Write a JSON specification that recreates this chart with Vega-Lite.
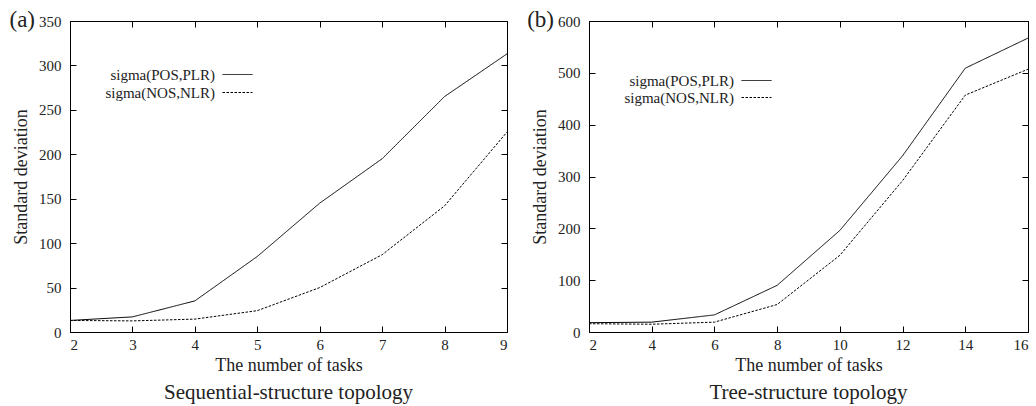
{
  "$schema": "https://vega.github.io/schema/vega-lite/v6.json",
  "background": "white",
  "padding": {"left": 8, "top": 8, "right": 2, "bottom": 2},
  "spacing": 15,
  "resolve": {"scale": {"strokeDash": "independent"}, "legend": {"strokeDash": "independent"}},
  "datasets": {
    "seq": [
      {"tasks": 2, "sd": 13, "series": "sigma(POS,PLR)"},
      {"tasks": 3, "sd": 17, "series": "sigma(POS,PLR)"},
      {"tasks": 4, "sd": 35, "series": "sigma(POS,PLR)"},
      {"tasks": 5, "sd": 85, "series": "sigma(POS,PLR)"},
      {"tasks": 6, "sd": 145, "series": "sigma(POS,PLR)"},
      {"tasks": 7, "sd": 195, "series": "sigma(POS,PLR)"},
      {"tasks": 8, "sd": 265, "series": "sigma(POS,PLR)"},
      {"tasks": 9, "sd": 313, "series": "sigma(POS,PLR)"},
      {"tasks": 2, "sd": 13, "series": "sigma(NOS,NLR)"},
      {"tasks": 3, "sd": 12.5, "series": "sigma(NOS,NLR)"},
      {"tasks": 4, "sd": 14.5, "series": "sigma(NOS,NLR)"},
      {"tasks": 5, "sd": 24, "series": "sigma(NOS,NLR)"},
      {"tasks": 6, "sd": 50, "series": "sigma(NOS,NLR)"},
      {"tasks": 7, "sd": 87, "series": "sigma(NOS,NLR)"},
      {"tasks": 8, "sd": 142, "series": "sigma(NOS,NLR)"},
      {"tasks": 9, "sd": 225, "series": "sigma(NOS,NLR)"}
    ],
    "tree": [
      {"tasks": 2, "sd": 18, "series": "sigma(POS,PLR)"},
      {"tasks": 4, "sd": 19, "series": "sigma(POS,PLR)"},
      {"tasks": 6, "sd": 33, "series": "sigma(POS,PLR)"},
      {"tasks": 8, "sd": 90, "series": "sigma(POS,PLR)"},
      {"tasks": 10, "sd": 196, "series": "sigma(POS,PLR)"},
      {"tasks": 12, "sd": 340, "series": "sigma(POS,PLR)"},
      {"tasks": 14, "sd": 509, "series": "sigma(POS,PLR)"},
      {"tasks": 16, "sd": 567, "series": "sigma(POS,PLR)"},
      {"tasks": 2, "sd": 16, "series": "sigma(NOS,NLR)"},
      {"tasks": 4, "sd": 15, "series": "sigma(NOS,NLR)"},
      {"tasks": 6, "sd": 19, "series": "sigma(NOS,NLR)"},
      {"tasks": 8, "sd": 53, "series": "sigma(NOS,NLR)"},
      {"tasks": 10, "sd": 148, "series": "sigma(NOS,NLR)"},
      {"tasks": 12, "sd": 292, "series": "sigma(NOS,NLR)"},
      {"tasks": 14, "sd": 457, "series": "sigma(NOS,NLR)"},
      {"tasks": 16, "sd": 507, "series": "sigma(NOS,NLR)"}
    ],
    "one": [{"k": 1}]
  },
  "config": {
    "font": "Liberation Serif",
    "view": {"stroke": "black", "strokeWidth": 1},
    "axis": {
      "grid": false, "domain": false, "ticks": true, "tickColor": "black", "tickSize": -6,
      "labelFont": "Liberation Serif", "labelFontSize": 15, "labelColor": "#222",
      "titleFont": "Liberation Serif", "titleFontSize": 18, "titleFontWeight": "normal", "titleColor": "#222"
    },
    "axisY": {"labelPadding": 15, "titlePadding": 8},
    "axisX": {"labelPadding": 11},
    "legend": {
      "orient": "none", "legendX": 160, "legendY": 46, "title": null, "padding": 0,
      "symbolType": "M-3,0H3", "symbolSize": 100, "symbolStrokeWidth": 1, "symbolStrokeColor": "black", "symbolFillColor": "transparent",
      "labelAlign": "right", "labelOffset": -30, "labelFont": "Liberation Serif", "labelFontSize": 15,
      "labelColor": "#222", "rowPadding": 2
    },
    "title": {"font": "Liberation Serif", "fontSize": 21, "fontWeight": "normal", "color": "#222"}
  },
  "hconcat": [
    {
      "width": 437, "height": 311,
      "title": {"text": "Sequential-structure topology", "orient": "bottom", "offset": 8},
      "layer": [
        {
          "data": {"name": "seq"},
          "mark": {"type": "line", "color": "black", "strokeWidth": 1},
          "encoding": {
            "x": {"field": "tasks", "type": "quantitative", "scale": {"domain": [2, 9], "nice": false},
                  "axis": {"orient": "bottom", "values": [2, 3, 4, 5, 6, 7, 8, 9], "title": "The number of tasks", "titlePadding": 4}},
            "y": {"field": "sd", "type": "quantitative", "scale": {"domain": [0, 350], "nice": false},
                  "axis": {"orient": "left", "values": [0, 50, 100, 150, 200, 250, 300, 350], "title": "Standard deviation"}},
            "strokeDash": {"field": "series", "type": "nominal",
                  "scale": {"domain": ["sigma(POS,PLR)", "sigma(NOS,NLR)"], "range": [[1, 0], [2.5, 1.5]]}}
          }
        },
        {
          "data": {"name": "seq"},
          "mark": {"type": "point", "opacity": 0},
          "encoding": {
            "x": {"field": "tasks", "type": "quantitative", "axis": {"orient": "top", "values": [2, 3, 4, 5, 6, 7, 8, 9], "labels": false, "title": null}},
            "y": {"field": "sd", "type": "quantitative", "axis": {"orient": "right", "values": [0, 50, 100, 150, 200, 250, 300, 350], "labels": false, "title": null}}
          }
        },
        {
          "data": {"name": "one"},
          "mark": {"type": "text", "text": "(a)", "fontSize": 23, "fontWeight": "normal", "align": "right", "baseline": "alphabetic", "dx": -35, "dy": 6, "color": "#222", "font": "Liberation Serif"},
          "encoding": {
            "x": {"datum": 2, "type": "quantitative", "axis": null},
            "y": {"datum": 350, "type": "quantitative", "axis": null}
          }
        }
      ],
      "resolve": {"axis": {"x": "independent", "y": "independent"}}
    },
    {
      "width": 439, "height": 311,
      "title": {"text": "Tree-structure topology", "orient": "bottom", "offset": 8},
      "layer": [
        {
          "data": {"name": "tree"},
          "mark": {"type": "line", "color": "black", "strokeWidth": 1},
          "encoding": {
            "x": {"field": "tasks", "type": "quantitative", "scale": {"domain": [2, 16], "nice": false},
                  "axis": {"orient": "bottom", "values": [2, 4, 6, 8, 10, 12, 14, 16], "title": "The number of tasks", "titlePadding": 4}},
            "y": {"field": "sd", "type": "quantitative", "scale": {"domain": [0, 600], "nice": false},
                  "axis": {"orient": "left", "values": [0, 100, 200, 300, 400, 500, 600], "title": "Standard deviation"}},
            "strokeDash": {"field": "series", "type": "nominal",
                  "scale": {"domain": ["sigma(POS,PLR)", "sigma(NOS,NLR)"], "range": [[1, 0], [2.5, 1.5]]},
                  "legend": {"legendX": 160, "legendY": 52, "rowPadding": 1}}
          }
        },
        {
          "data": {"name": "tree"},
          "mark": {"type": "point", "opacity": 0},
          "encoding": {
            "x": {"field": "tasks", "type": "quantitative", "axis": {"orient": "top", "values": [2, 4, 6, 8, 10, 12, 14, 16], "labels": false, "title": null}},
            "y": {"field": "sd", "type": "quantitative", "axis": {"orient": "right", "values": [0, 100, 200, 300, 400, 500, 600], "labels": false, "title": null}}
          }
        },
        {
          "data": {"name": "one"},
          "mark": {"type": "text", "text": "(b)", "fontSize": 23, "fontWeight": "normal", "align": "right", "baseline": "alphabetic", "dx": -35, "dy": 6, "color": "#222", "font": "Liberation Serif"},
          "encoding": {
            "x": {"datum": 2, "type": "quantitative", "axis": null},
            "y": {"datum": 600, "type": "quantitative", "axis": null}
          }
        }
      ],
      "resolve": {"axis": {"x": "independent", "y": "independent"}}
    }
  ]
}
